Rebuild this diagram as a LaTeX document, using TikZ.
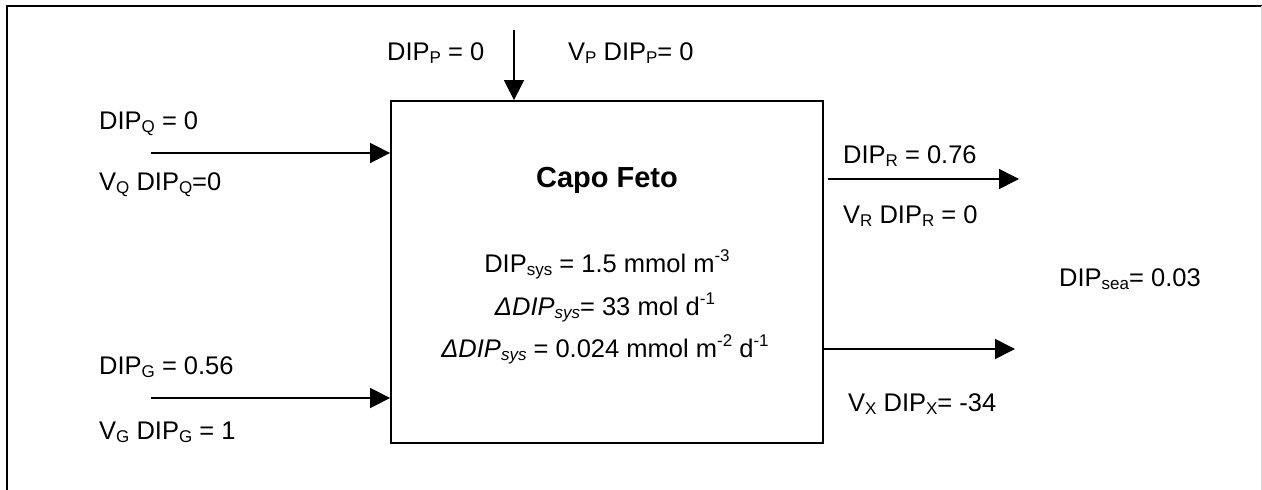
\documentclass[tikz,border=0pt]{standalone}
\usepackage{fontspec}
\setmainfont{Liberation Sans}
\usetikzlibrary{arrows.meta}
\newcommand\sbx[1]{\raisebox{-0.15em}{\fontsize{17}{17}\selectfont #1}}
\newcommand\spx[1]{\raisebox{0.42em}{\fontsize{17}{17}\selectfont #1}}
\begin{document}
\begin{tikzpicture}[x=1pt,y=-1pt,
  lbl/.style={anchor=base west, inner sep=0pt, font=\fontsize{25.5}{28}\selectfont},
  ctr/.style={anchor=base, inner sep=0pt, font=\fontsize{25.5}{28}\selectfont},
  arr/.style={line width=1.6pt, -{Triangle[length=20pt,width=20pt]}},
  frame/.style={line width=1.8pt}]
\useasboundingbox (0,0) rectangle (1262,490);
% outer frame (open at the bottom)
\draw[frame] (7,490) -- (7,6) -- (1262,6);
\draw[line width=1pt, black!15] (1261,6) -- (1261,490);
% main box
\node[draw, line width=1.8pt, minimum width=432pt, minimum height=342pt, inner sep=0pt] (box) at (607,272) {};
% free ends
\coordinate (ps) at (514,30);
\coordinate (qs) at (151,153);
\coordinate (gs) at (151,398);
\coordinate (rs) at (828,179);
\coordinate (re) at (1019,179);
\coordinate (xe) at (1015,349);
% connectors
\draw[arr] (ps) -- (ps |- box.north);
\draw[arr] (qs) -- (box.west |- qs);
\draw[arr] (gs) -- (box.west |- gs);
\draw[arr] (rs) -- (re);
\draw[arr] (box.east |- xe) -- (xe);
% labels
\node[lbl] (tp1) at (387,60) {DIP\sbx{P} = 0};
\node[lbl] (tp2) at (568,60) {V\sbx{P} DIP\sbx{P}= 0};
\node[lbl] (tq1) at (99,129) {DIP\sbx{Q} = 0};
\node[lbl] (tq2) at (99,190) {V\sbx{Q} DIP\sbx{Q}=0};
\node[lbl] (tg1) at (99,374) {DIP\sbx{G} = 0.56};
\node[lbl] (tg2) at (99,439) {V\sbx{G} DIP\sbx{G} = 1};
\node[lbl] (tr1) at (843,163) {DIP\sbx{R} = 0.76};
\node[lbl] (tr2) at (843,223) {V\sbx{R} DIP\sbx{R} = 0};
\node[lbl] (tx) at (848,411) {V\sbx{X} DIP\sbx{X}= -34};
\node[lbl] (tsea) at (1059,286) {DIP\sbx{sea}= 0.03};
% box contents
\node[ctr, font=\fontsize{29}{32}\selectfont\bfseries] (title) at (607,187) {Capo Feto};
\node[ctr] (s1) at (607,272) {DIP\sbx{sys} = 1.5 mmol m\spx{-3}};
\node[ctr] (s2) at (605,315) {\textit{ΔDIP\sbx{sys}}= 33 mol d\spx{-1}};
\node[ctr] (s3) at (605,357) {\textit{ΔDIP\sbx{sys}} = 0.024 mmol m\spx{-2} d\spx{-1}};
\end{tikzpicture}
\end{document}
